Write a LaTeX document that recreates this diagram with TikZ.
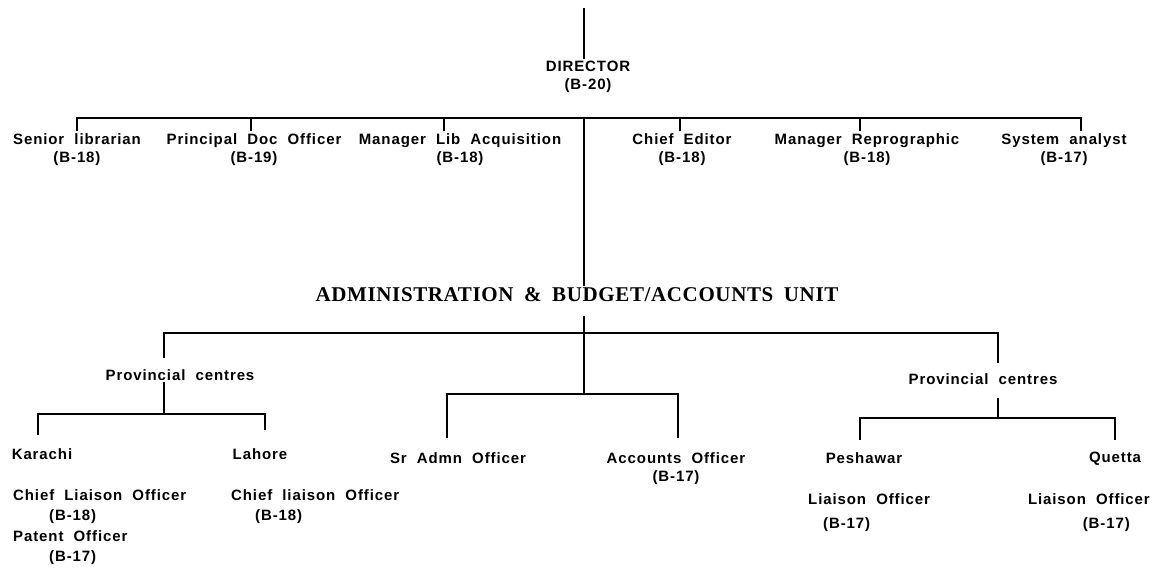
\documentclass[tikz,border=0pt]{standalone}
\usepackage{fontspec}
\setmainfont{Liberation Sans}
\newfontfamily\postfont[LetterSpace=6,WordSpace=2.0]{Liberation Sans}
\newfontfamily\unitfont[LetterSpace=3,WordSpace=1.8]{Liberation Serif}
\usetikzlibrary{positioning}

\begin{document}
\begin{tikzpicture}[x=1pt, y=-1pt]

% Define styles
\tikzstyle{post} = [anchor=north, align=center, inner sep=2pt, font=\postfont\bfseries\fontsize{15}{18}\selectfont]
\tikzstyle{post_left} = [post, anchor=north west, align=left]
\tikzstyle{unit} = [inner sep=2pt, font=\unitfont\bfseries\fontsize{21}{24}\selectfont]
\tikzstyle{link} = [line width=1.6pt]

\useasboundingbox (0,0) rectangle (1155,570);

% Director
\coordinate (top) at (584,8);
\node (dir) [post] at (588,59) {DIRECTOR\\(B-20)};
\draw [link] (top) -- (top |- dir.north);

% First row
\coordinate (top_bar) at (584,118);
\node (sen_lib) [post] at (77,131) {Senior librarian\\(B-18)};
\node (prin_doc) [post] at (254,131) {Principal Doc Officer\\(B-19)};
\node (man_lib) [post] at (460,131) {Manager Lib Acquisition\\(B-18)};
\node (chief_ed) [post] at (682,131) {Chief Editor\\(B-18)};
\node (man_rep) [post] at (867,131) {Manager Reprographic\\(B-18)};
\node (sys_an) [post] at (1064,131) {System analyst\\(B-17)};

\draw [link] (sen_lib.north) |- (top_bar) -| ([xshift=17pt]sys_an.north);
\draw [link] ([xshift=-3pt]prin_doc.north) |- (top_bar);
\draw [link] ([xshift=-16pt]man_lib.north) |- (top_bar);
\draw [link] ([xshift=-2pt]chief_ed.north) |- (top_bar);
\draw [link] ([xshift=-7pt]man_rep.north) |- (top_bar);

% Administration unit
\node (admin) [unit] at (577,295) {ADMINISTRATION \& BUDGET/ACCOUNTS UNIT};
\draw [link] (top_bar) -- (top_bar |- admin.north);

\coordinate (admin_bar) at (584,333);
\coordinate (mid_bar) at (584,394);
\draw [link, shorten <=12pt] (admin.south -| mid_bar) -- (mid_bar);

% Provincial centres
\node (prov_l) [post] at (180,367) {Provincial centres};
\node (prov_r) [post] at (983,371) {Provincial centres};
\draw [link, shorten <=9pt, shorten >=8pt] ([xshift=-16pt]prov_l.north) |- (admin_bar) -| ([xshift=15pt]prov_r.north);

% Karachi and Lahore
\coordinate (left_bar) at (164,414);
\node (kar) [post] at (42,446) {Karachi};
\node (lah) [post] at (260,446) {Lahore};
\draw [link, shorten <=11pt, shorten >=16pt] ([xshift=-4pt]kar.north) |- (left_bar) -| ([xshift=5pt]lah.north);
\draw [link] (left_bar) -- ([xshift=-16pt]prov_l.south);

\node (kar_off) [post_left, font=\postfont\bfseries\fontsize{15}{20.5}\selectfont] at (11,487) {Chief Liaison Officer\\\hspace*{36pt}(B-18)\\Patent Officer\\\hspace*{36pt}(B-17)};
\node (lah_off) [post_left, font=\postfont\bfseries\fontsize{15}{20.5}\selectfont] at (229,487) {Chief liaison Officer\\\hspace*{24pt}(B-18)};

% Head office officers
\node (sr_admn) [post] at (458,450) {Sr Admn Officer};
\node (acc) [post] at (676,450) {Accounts Officer\\(B-17)};
\draw [link, shorten <=12pt, shorten >=12pt] ([xshift=-11pt]sr_admn.north) |- (mid_bar) -| ([xshift=2pt]acc.north);

% Peshawar and Quetta
\coordinate (right_bar) at (998,418);
\node (pes) [post] at (864,450) {Peshawar};
\node (que) [post] at (1115,450) {Quetta};
\draw [link, shorten <=10pt, shorten >=10pt] ([xshift=-4pt]pes.north) |- (right_bar) -| (que.north);
\draw [link, shorten >=12pt] (right_bar) -- ([xshift=15pt]prov_r.south);

\node (pes_off) [post_left, font=\postfont\bfseries\fontsize{15}{24}\selectfont] at (806,491) {Liaison Officer\\\hspace*{15pt}(B-17)};
\node (que_off) [post, anchor=north east, align=right, font=\postfont\bfseries\fontsize{15}{24}\selectfont] at (1152,491) {Liaison Officer\\(B-17)\hspace*{20pt}};

\end{tikzpicture}
\end{document}
